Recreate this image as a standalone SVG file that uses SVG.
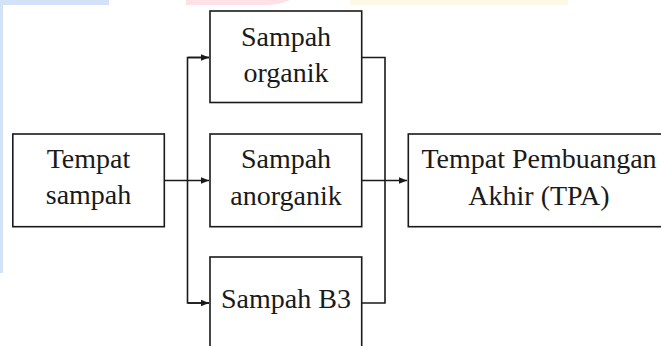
<svg xmlns="http://www.w3.org/2000/svg" width="661" height="346" viewBox="0 0 661 346">
<style>
.box{fill:#fff;stroke:#1a1a1a;stroke-width:1.6}
.t{font-family:'Liberation Serif','DejaVu Serif',serif;font-size:28px;fill:#1a1a1a;text-anchor:middle}
.c{fill:none;stroke:#1a1a1a;stroke-width:1.6}
</style>
<defs>
<marker id="ah" viewBox="0 0 8 8" refX="8" refY="4" markerWidth="8" markerHeight="8" markerUnits="userSpaceOnUse" orient="auto">
<path d="M0,0.8 L8,4 L0,7.2 Z" fill="#1a1a1a"/>
</marker>
</defs>
<rect width="661" height="346" fill="#fff"/>
<g id="background">
<rect x="0" y="0" width="109" height="5" fill="#d3e2f6"/>
<rect x="0" y="0" width="3" height="273" fill="#d3e2f6"/>
<path d="M186,0 H290 Q280,5 265,5 H186 Z" fill="#fde1e7"/>
<rect x="350" y="0" width="218" height="5" fill="#fef8e6"/>
</g>
<g id="connectors">
<path class="c" d="M164,180.5 H209" marker-end="url(#ah)"/>
<path class="c" d="M209,57.5 H187.5 V303 H209"/>
<path class="c" d="M188,57.5 H209" marker-end="url(#ah)"/>
<path class="c" d="M188,303 H209" marker-end="url(#ah)"/>
<path class="c" d="M362,57.5 H385 V303 H362"/>
<path class="c" d="M362,180.5 H407" marker-end="url(#ah)"/>
</g>
<g id="tempat-sampah">
<rect class="box" x="12.8" y="134" width="151.5" height="92.7"/>
<text class="t" font-family="Liberation Serif" x="88.5" y="167.5">Tempat</text>
<text class="t" font-family="Liberation Serif" x="88.5" y="204">sampah</text>
</g>
<g id="sampah-organik">
<rect class="box" x="210" y="11" width="151.7" height="91.5"/>
<text class="t" font-family="Liberation Serif" x="286" y="46">Sampah</text>
<text class="t" font-family="Liberation Serif" x="286" y="82">organik</text>
</g>
<g id="sampah-anorganik">
<rect class="box" x="210" y="134" width="151.7" height="92.7"/>
<text class="t" font-family="Liberation Serif" x="286" y="168">Sampah</text>
<text class="t" font-family="Liberation Serif" x="286" y="205">anorganik</text>
</g>
<g id="sampah-b3">
<rect class="box" x="210" y="257" width="151.7" height="100"/>
<text class="t" font-family="Liberation Serif" x="286" y="308">Sampah B3</text>
</g>
<g id="tpa">
<rect class="box" x="408.3" y="134" width="262" height="92.7"/>
<text class="t" font-family="Liberation Serif" x="539" y="168">Tempat Pembuangan</text>
<text class="t" font-family="Liberation Serif" x="539" y="205">Akhir (TPA)</text>
</g>
</svg>
